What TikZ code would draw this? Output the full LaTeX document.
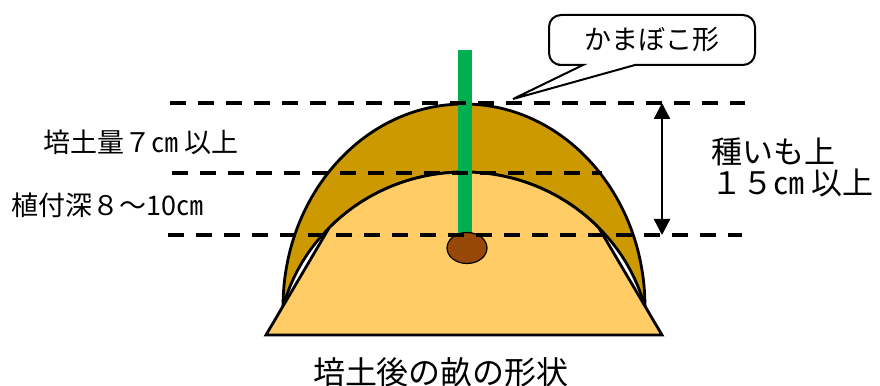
\documentclass[tikz,border=0pt]{standalone}
\usepackage{fontspec}
\setmainfont{Noto Sans CJK JP}
\usepackage{tikz}
\usetikzlibrary{arrows.meta}
\usetikzlibrary{shapes.geometric}

\definecolor{soil}{HTML}{CC9900}
\definecolor{ridge}{HTML}{FFCC66}
\definecolor{sprout}{HTML}{00B050}
\definecolor{seed}{HTML}{984806}

\begin{document}
\begin{tikzpicture}[x=0.5pt, y=0.5pt,
    outline/.style = {draw, line width=1.4pt},
    depthline/.style = {line width=1.7pt, dash pattern=on 8pt off 6pt},
    label/.style = {font=\fontsize{13.5}{16}\selectfont, inner sep=0pt}]
					\useasboundingbox (0,0) rectangle (880,386);
					% earthed-up layer and the ridge under it
					\path[outline, fill=soil] (283,79) arc[start angle=180, end angle=0, x radius=181, y radius=203]
						.. controls (636.5,109.4) and (621.2,135.7) .. (598.9,158.1)
						arc[start angle=44, end angle=136, x radius=187.5, y radius=183]
						.. controls (306.8,135.7) and (291.5,109.4) .. (283,79) -- cycle;
					\path[outline, fill=ridge] (266,51) -- (329.1,158.1)
						arc[start angle=136, end angle=44, x radius=187.5, y radius=183] -- (662,51) -- cycle;
					\fill[sprout] (457.5,336) rectangle (471.5,151);
					\node[draw, line width=0.6pt, fill=seed, ellipse, minimum width=20pt, minimum height=15.5pt, inner sep=0pt] (P) at (467,138) {};
					\draw [depthline] (170,283) -- (745,283);
					\draw [depthline] (172,213) -- (602,213);
					\draw [depthline] (168,151) -- (742,151);
					\coordinate (T) at (662,283);
					\coordinate (B) at (662,151);
					\draw [line width=1.2pt, {Triangle[width=8pt,length=8pt]}-{Triangle[width=8pt,length=8pt]}] (T) -- (B);
					% balloon
					\draw [line width=1pt, fill=white] (583,321) -- (513,287) -- (635,321) [rounded corners=6pt] -- (755,321) -- (755,371)
						-- (549,371) -- (549,321) -- (570,321) [sharp corners] -- cycle;
					\node[label] (K) at (652,346) {かまぼこ形};
					\node[label] (L1) at (141,244) {培土量７㎝ 以上};
					\node[label] (L2) at (107.5,181) {植付深８～10㎝};
					\node[label, font=\fontsize{15.5}{18}\selectfont, anchor=west] (R1) at (711,234) {種いも上};
					\node[label, font=\fontsize{15.5}{18}\selectfont, anchor=west] (R2) at (711,203) {１５㎝ 以上};
					\node[label, font=\fontsize{16}{18}\selectfont] (C) at (441,14) {培土後の畝の形状};
				\end{tikzpicture}
\end{document}
